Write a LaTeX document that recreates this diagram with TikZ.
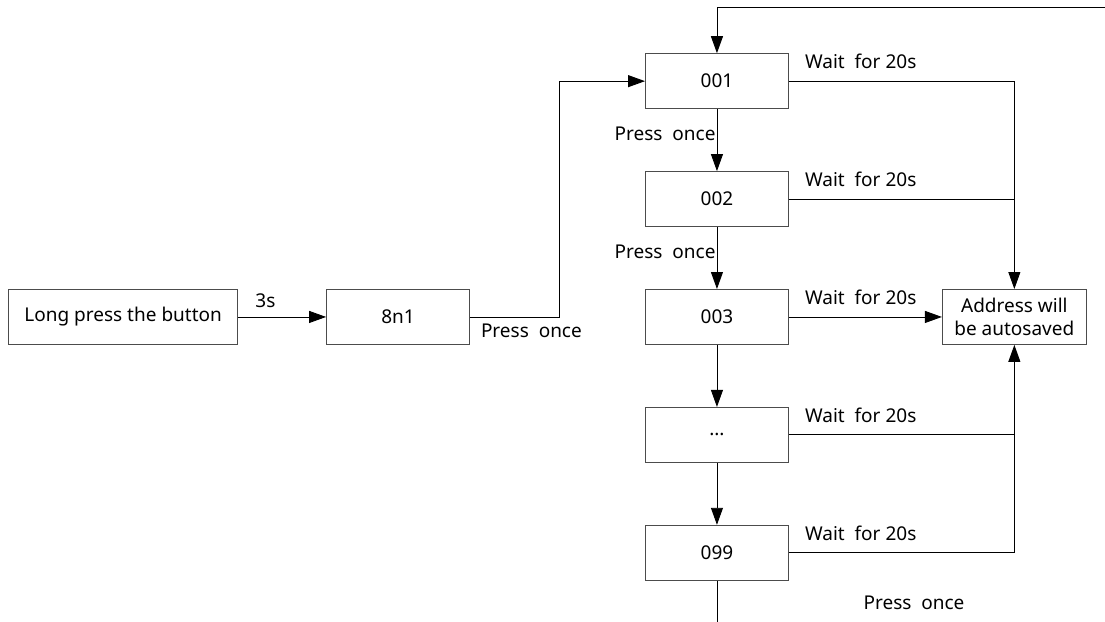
\documentclass[tikz,border=0pt]{standalone}
\usepackage{fontspec}
\setmainfont{Noto Sans}
\usetikzlibrary{arrows.meta}

\begin{document}
\begin{tikzpicture}
	[x=1pt, y=-1pt,
		>={Triangle[length=17pt, width=12pt]},
		containsText/.style	={font=\fontsize{19}{23}\selectfont
									},
		block/.style		={rectangle
									, containsText
									, draw=black!70
									, line width=0.9pt
									, minimum width=143pt
									, minimum height=55pt
									, inner sep=2pt
									, align=center
									},
		wideblock/.style	={block
									, minimum width=229pt
									},
		line/.style			={draw
									, line width=0.9pt
									, ->
									},
		plain/.style		={draw
									, line width=0.9pt
									, -
									},
		label/.style		={containsText
									, inner sep=1pt
									},
		wait/.style			={label
									, anchor=south west
									, xshift=15pt
									, yshift=11pt
									}
	]
\useasboundingbox (0,0) rectangle (1105,621);
\matrix [column sep=88pt, row sep=62pt, inner sep=0pt, anchor=north west] at (8,53)
	{
		% row 1
			&
			&[87pt]
			\node [block] (s001)				{001}; &[65pt]
		\\
		% row 2
			&
			&
			\node [block] (s002)				{002}; &
		\\
		% row 3
			\node [wideblock] (long)			{Long press the button}; &
			\node [block] (8n1)					{8n1}; &
			\node [block] (s003)				{003}; &
			\node [block, minimum width=144pt] (save)	{Address will\\be autosaved};
		\\
		% row 4
			&
			&
			\node [block] (dots)				{...}; &
		\\
		% row 5
			&
			&
			\node [block] (s099)				{099}; &
		\\
	};
\coordinate (top)		at (1105,7);
\coordinate (bottom)	at ([yshift=-44pt]s099.south);
\node [label] (pback)	at (914,603)	{Press~~once};
\foreach \s in {s001,s002,s003,dots,s099}
	\node [wait] (w\s) at (\s.east) {Wait~~for 20s};
\begin{scope}[every path/.style=line]

	\path					(long)		-- node [label, above=8pt, pos=0.31] {3s} (8n1);
	\path					(8n1.east)	-- node [label, below=6pt, pos=0.69] {Press~~once} ++(89,0) |- (s001);
	\path					(top)		-| (s001);
	\path					(s001)		-- node [label, left, pos=0.4] {Press~~once} (s002);
	\path					(s002)		-- node [label, left, pos=0.4] {Press~~once} (s003);
	\path					(s003)		-- (dots);
	\path					(dots)		-- (s099);
	\path	[plain]	(s099)		-- (bottom);
	\path					(s001)		-| (save);
	\path	[plain]	(s002)		-- (s002 -| save);
	\path					(s003)		-- (save);
	\path	[plain]	(dots)		-- (dots -| save);
	\path					(s099)		-| (save);
\end{scope}
\end{tikzpicture}
\end{document}
